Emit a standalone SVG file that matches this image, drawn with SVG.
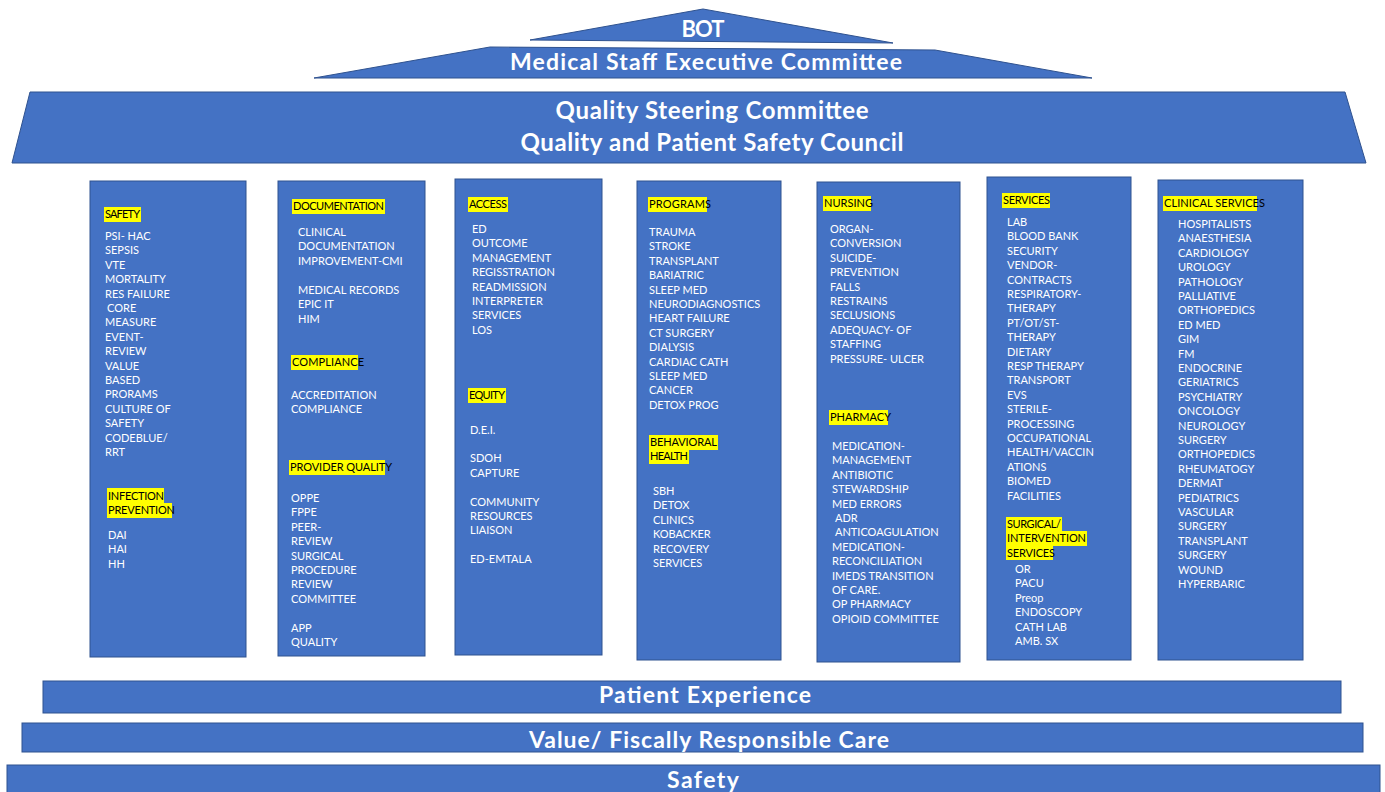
<svg xmlns="http://www.w3.org/2000/svg" width="1385" height="792" viewBox="0 0 1385 792">
<style>
.shape{fill:#4472C4;stroke:#2F528F;stroke-width:1}
.big{font-family:Lato,"Open Sans","Liberation Sans",sans-serif;font-weight:bold;fill:#fff;text-anchor:middle}
.t{font-family:Lato,"Open Sans","Liberation Sans",sans-serif;font-size:11px;fill:#fff}
.h{font-family:Lato,"Open Sans","Liberation Sans",sans-serif;font-size:11px;fill:#000}
.hl{fill:#FFFF00}
</style>
<rect width="1385" height="792" fill="#fff"/>
<g id="connectors"/>
<g id="bot">
<polygon class="shape" points="530,40 703,9 893,43"/>
<text class="big" x="703" y="37" font-size="22" textLength="43">BOT</text>
</g>
<g id="mec">
<polygon class="shape" points="490,47 935,50 1092,78 314,78"/>
<text class="big" x="706" y="70" font-size="23" textLength="392">Medical Staff Executive Committee</text>
</g>
<g id="qsc">
<polygon class="shape" points="30,92 1345,92 1366,163 12,163"/>
<text class="big" x="712" y="119" font-size="24" textLength="313">Quality Steering Committee</text>
<text class="big" x="712" y="151" font-size="24" textLength="383">Quality and Patient Safety Council</text>
</g>

<g id="col-safety">
<rect class="shape" x="90" y="181" width="156" height="476"/>
<rect class="hl" x="104" y="207" width="37" height="15"/>
<text class="h" x="105" y="218" textLength="35">SAFETY</text>
<text class="t" x="105" y="240"><tspan x="105">PSI- HAC</tspan><tspan x="105" dy="14.4">SEPSIS</tspan><tspan x="105" dy="14.4">VTE</tspan><tspan x="105" dy="14.4">MORTALITY</tspan><tspan x="105" dy="14.4">RES FAILURE</tspan><tspan x="107" dy="14.4">CORE</tspan><tspan x="105" dy="14.4">MEASURE</tspan><tspan x="105" dy="14.4">EVENT-</tspan><tspan x="105" dy="14.4">REVIEW</tspan><tspan x="105" dy="14.4">VALUE</tspan><tspan x="105" dy="14.4">BASED</tspan><tspan x="105" dy="14.4">PRORAMS</tspan><tspan x="105" dy="14.4">CULTURE OF</tspan><tspan x="105" dy="14.4">SAFETY</tspan><tspan x="105" dy="14.4">CODEBLUE/</tspan><tspan x="105" dy="14.4">RRT</tspan></text>
<rect class="hl" x="107" y="488" width="57" height="15"/>
<rect class="hl" x="107" y="503" width="65" height="15"/>
<text class="h" x="108" y="500" textLength="56">INFECTION</text>
<text class="h" x="108" y="514" textLength="67">PREVENTION</text>
<text class="t" x="108" y="539"><tspan x="108">DAI</tspan><tspan x="108" dy="14.4">HAI</tspan><tspan x="108" dy="14.4">HH</tspan></text>
</g>

<g id="col-documentation">
<rect class="shape" x="278" y="181" width="147" height="475"/>
<rect class="hl" x="292" y="199" width="93" height="15"/>
<text class="h" x="293" y="210" textLength="91">DOCUMENTATION</text>
<text class="t" x="298" y="236"><tspan x="298">CLINICAL</tspan><tspan x="298" dy="14.4">DOCUMENTATION</tspan><tspan x="298" dy="14.4">IMPROVEMENT-CMI</tspan><tspan x="298" dy="29">MEDICAL RECORDS</tspan><tspan x="298" dy="14.4">EPIC IT</tspan><tspan x="298" dy="14.4">HIM</tspan></text>
<rect class="hl" x="291" y="355" width="67" height="15"/>
<text class="h" x="292" y="366" textLength="72">COMPLIANCE</text>
<text class="t" x="291" y="399"><tspan x="291">ACCREDITATION</tspan><tspan x="291" dy="14.4">COMPLIANCE</tspan></text>
<rect class="hl" x="289" y="460" width="96" height="15"/>
<text class="h" x="290" y="471" textLength="102">PROVIDER QUALITY</text>
<text class="t" x="291" y="502"><tspan x="291">OPPE</tspan><tspan x="291" dy="14.4">FPPE</tspan><tspan x="291" dy="14.4">PEER-</tspan><tspan x="291" dy="14.4">REVIEW</tspan><tspan x="291" dy="14.4">SURGICAL</tspan><tspan x="291" dy="14.4">PROCEDURE</tspan><tspan x="291" dy="14.4">REVIEW</tspan><tspan x="291" dy="14.4">COMMITTEE</tspan><tspan x="291" dy="28.8">APP</tspan><tspan x="291" dy="14.4">QUALITY</tspan></text>
</g>

<g id="col-access">
<rect class="shape" x="455" y="179" width="147" height="476"/>
<rect class="hl" x="468" y="197" width="40" height="15"/>
<text class="h" x="469" y="208" textLength="38">ACCESS</text>
<text class="t" x="472" y="233"><tspan x="472">ED</tspan><tspan x="472" dy="14.4">OUTCOME</tspan><tspan x="472" dy="14.4">MANAGEMENT</tspan><tspan x="472" dy="14.4">REGISSTRATION</tspan><tspan x="472" dy="14.4">READMISSION</tspan><tspan x="472" dy="14.4">INTERPRETER</tspan><tspan x="472" dy="14.4">SERVICES</tspan><tspan x="472" dy="14.4">LOS</tspan></text>
<rect class="hl" x="468" y="388" width="38" height="15"/>
<text class="h" x="469" y="399" textLength="36">EQUITY</text>
<text class="t" x="470" y="434"><tspan x="470">D.E.I.</tspan><tspan x="470" dy="28.4">SDOH</tspan><tspan x="470" dy="14.4">CAPTURE</tspan><tspan x="470" dy="28.8">COMMUNITY</tspan><tspan x="470" dy="14.4">RESOURCES</tspan><tspan x="470" dy="14.4">LIAISON</tspan><tspan x="470" dy="28.8">ED-EMTALA</tspan></text>
</g>

<g id="col-programs">
<rect class="shape" x="637" y="181" width="144" height="479"/>
<rect class="hl" x="648" y="197" width="59" height="15"/>
<text class="h" x="649" y="208" textLength="62">PROGRAMS</text>
<text class="t" x="649" y="236"><tspan x="649">TRAUMA</tspan><tspan x="649" dy="14.4">STROKE</tspan><tspan x="649" dy="14.4">TRANSPLANT</tspan><tspan x="649" dy="14.4">BARIATRIC</tspan><tspan x="649" dy="14.4">SLEEP MED</tspan><tspan x="649" dy="14.4">NEURODIAGNOSTICS</tspan><tspan x="649" dy="14.4">HEART FAILURE</tspan><tspan x="649" dy="14.4">CT SURGERY</tspan><tspan x="649" dy="14.4">DIALYSIS</tspan><tspan x="649" dy="14.4">CARDIAC CATH</tspan><tspan x="649" dy="14.4">SLEEP MED</tspan><tspan x="649" dy="14.4">CANCER</tspan><tspan x="649" dy="14.4">DETOX PROG</tspan></text>
<rect class="hl" x="649" y="435" width="69" height="15"/>
<rect class="hl" x="649" y="449" width="40" height="15"/>
<text class="h" x="650" y="446" textLength="67">BEHAVIORAL</text>
<text class="h" x="650" y="460" textLength="38">HEALTH</text>
<text class="t" x="653" y="495"><tspan x="653">SBH</tspan><tspan x="653" dy="14.4">DETOX</tspan><tspan x="653" dy="14.4">CLINICS</tspan><tspan x="653" dy="14.4">KOBACKER</tspan><tspan x="653" dy="14.4">RECOVERY</tspan><tspan x="653" dy="14.4">SERVICES</tspan></text>
</g>

<g id="col-nursing">
<rect class="shape" x="817" y="182" width="143" height="480"/>
<rect class="hl" x="823" y="196" width="48" height="15"/>
<text class="h" x="824" y="207" textLength="49">NURSING</text>
<text class="t" x="830" y="233"><tspan x="830">ORGAN-</tspan><tspan x="830" dy="14.4">CONVERSION</tspan><tspan x="830" dy="14.4">SUICIDE-</tspan><tspan x="830" dy="14.4">PREVENTION</tspan><tspan x="830" dy="14.4">FALLS</tspan><tspan x="830" dy="14.4">RESTRAINS</tspan><tspan x="830" dy="14.4">SECLUSIONS</tspan><tspan x="830" dy="14.4">ADEQUACY-  OF</tspan><tspan x="830" dy="14.4">STAFFING</tspan><tspan x="830" dy="14.4">PRESSURE- ULCER</tspan></text>
<rect class="hl" x="829" y="410" width="59" height="15"/>
<text class="h" x="830" y="421" textLength="61">PHARMACY</text>
<text class="t" x="832" y="450"><tspan x="832">MEDICATION-</tspan><tspan x="832" dy="14.4">MANAGEMENT</tspan><tspan x="832" dy="14.4">ANTIBIOTIC</tspan><tspan x="832" dy="14.4">STEWARDSHIP</tspan><tspan x="832" dy="14.4">MED ERRORS</tspan><tspan x="835" dy="14.4">ADR</tspan><tspan x="835" dy="14.4">ANTICOAGULATION</tspan><tspan x="832" dy="14.4">MEDICATION-</tspan><tspan x="832" dy="14.4">RECONCILIATION</tspan><tspan x="832" dy="14.4">IMEDS TRANSITION</tspan><tspan x="832" dy="14.4">OF CARE.</tspan><tspan x="832" dy="14.4">OP PHARMACY</tspan><tspan x="832" dy="14.4">OPIOID COMMITTEE</tspan></text>
</g>

<g id="col-services">
<rect class="shape" x="987" y="177" width="144" height="483"/>
<rect class="hl" x="1002" y="193" width="48" height="15"/>
<text class="h" x="1003" y="204" textLength="47">SERVICES</text>
<text class="t" x="1007" y="226"><tspan x="1007">LAB</tspan><tspan x="1007" dy="14.4">BLOOD BANK</tspan><tspan x="1007" dy="14.4">SECURITY</tspan><tspan x="1007" dy="14.4">VENDOR-</tspan><tspan x="1007" dy="14.4">CONTRACTS</tspan><tspan x="1007" dy="14.4">RESPIRATORY-</tspan><tspan x="1007" dy="14.4">THERAPY</tspan><tspan x="1007" dy="14.4">PT/OT/ST-</tspan><tspan x="1007" dy="14.4">THERAPY</tspan><tspan x="1007" dy="14.4">DIETARY</tspan><tspan x="1007" dy="14.4">RESP THERAPY</tspan><tspan x="1007" dy="14.4">TRANSPORT</tspan><tspan x="1007" dy="14.4">EVS</tspan><tspan x="1007" dy="14.4">STERILE-</tspan><tspan x="1007" dy="14.4">PROCESSING</tspan><tspan x="1007" dy="14.4">OCCUPATIONAL</tspan><tspan x="1007" dy="14.4">HEALTH/VACCIN</tspan><tspan x="1007" dy="14.4">ATIONS</tspan><tspan x="1007" dy="14.4">BIOMED</tspan><tspan x="1007" dy="14.4">FACILITIES</tspan></text>
<rect class="hl" x="1006" y="517" width="56" height="15"/>
<rect class="hl" x="1006" y="531" width="81" height="15"/>
<rect class="hl" x="1006" y="545" width="47" height="15"/>
<text class="h" x="1007" y="528" textLength="54">SURGICAL/</text>
<text class="h" x="1007" y="542" textLength="79">INTERVENTION</text>
<text class="h" x="1007" y="557" textLength="48">SERVICES</text>
<text class="t" x="1015" y="573"><tspan x="1015">OR</tspan><tspan x="1015" dy="14.4">PACU</tspan><tspan x="1015" dy="14.4">Preop</tspan><tspan x="1015" dy="14.4">ENDOSCOPY</tspan><tspan x="1015" dy="14.4">CATH LAB</tspan><tspan x="1015" dy="14.4">AMB. SX</tspan></text>
</g>

<g id="col-clinical">
<rect class="shape" x="1158" y="180" width="145" height="480"/>
<rect class="hl" x="1163" y="196" width="94" height="15"/>
<text class="h" x="1164" y="207" textLength="101">CLINICAL SERVICES</text>
<text class="t" x="1178" y="228"><tspan x="1178">HOSPITALISTS</tspan><tspan x="1178" dy="14.4">ANAESTHESIA</tspan><tspan x="1178" dy="14.4">CARDIOLOGY</tspan><tspan x="1178" dy="14.4">UROLOGY</tspan><tspan x="1178" dy="14.4">PATHOLOGY</tspan><tspan x="1178" dy="14.4">PALLIATIVE</tspan><tspan x="1178" dy="14.4">ORTHOPEDICS</tspan><tspan x="1178" dy="14.4">ED MED</tspan><tspan x="1178" dy="14.4">GIM</tspan><tspan x="1178" dy="14.4">FM</tspan><tspan x="1178" dy="14.4">ENDOCRINE</tspan><tspan x="1178" dy="14.4">GERIATRICS</tspan><tspan x="1178" dy="14.4">PSYCHIATRY</tspan><tspan x="1178" dy="14.4">ONCOLOGY</tspan><tspan x="1178" dy="14.4">NEUROLOGY</tspan><tspan x="1178" dy="14.4">SURGERY</tspan><tspan x="1178" dy="14.4">ORTHOPEDICS</tspan><tspan x="1178" dy="14.4">RHEUMATOGY</tspan><tspan x="1178" dy="14.4">DERMAT</tspan><tspan x="1178" dy="14.4">PEDIATRICS</tspan><tspan x="1178" dy="14.4">VASCULAR</tspan><tspan x="1178" dy="14.4">SURGERY</tspan><tspan x="1178" dy="14.4">TRANSPLANT</tspan><tspan x="1178" dy="14.4">SURGERY</tspan><tspan x="1178" dy="14.4">WOUND</tspan><tspan x="1178" dy="14.4">HYPERBARIC</tspan></text>
</g>

<g id="patient-experience">
<rect class="shape" x="43" y="681" width="1298" height="32"/>
<text class="big" x="705" y="703" font-size="23" textLength="212">Patient Experience</text>
</g>
<g id="value">
<rect class="shape" x="22" y="723" width="1341" height="29"/>
<text class="big" x="709" y="748" font-size="23" textLength="360">Value/ Fiscally Responsible Care</text>
</g>
<g id="safety">
<rect class="shape" x="7" y="765" width="1373" height="30"/>
<text class="big" x="703" y="788" font-size="23" textLength="72">Safety</text>
</g>
</svg>
